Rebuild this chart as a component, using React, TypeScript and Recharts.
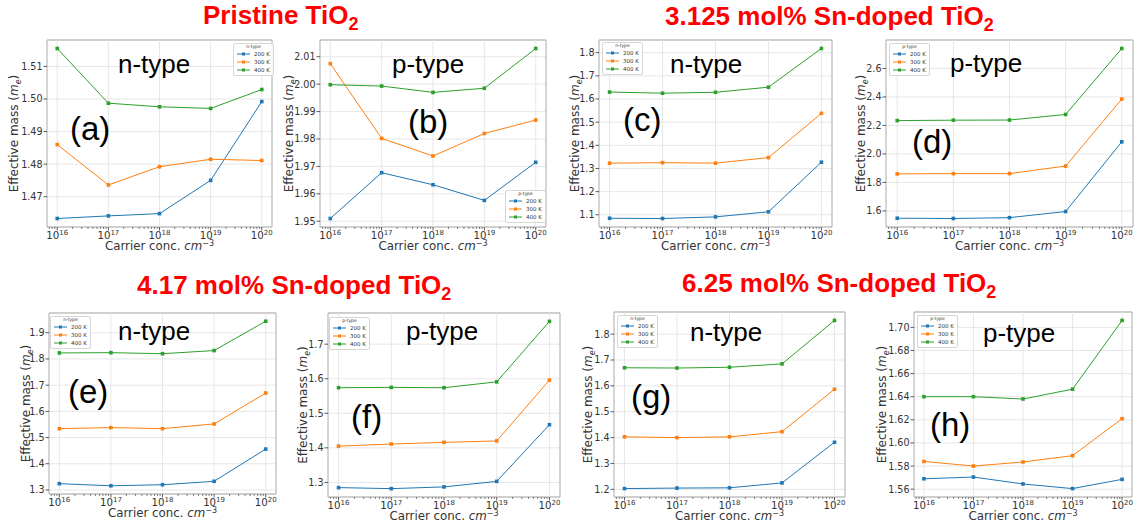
import React from 'react';
import {
  LineChart,
  Line,
  XAxis,
  YAxis,
  CartesianGrid,
  ReferenceLine,
  ReferenceArea,
  Legend
} from 'recharts';

// carrier concentration exponents (10^n cm^-3)
const exponents = [16, 17, 18, 19, 20];
const tempLabels = ['200 K', '300 K', '400 K'];
const colors = ['#1f77b4', '#ff7f0e', '#2ca02c'];

// (a) pristine n-type
const a200 = [1.4633, 1.4641, 1.4648, 1.4750, 1.4992];
const a300 = [1.4860, 1.4736, 1.4792, 1.4815, 1.4811];
const a400 = [1.5155, 1.4987, 1.4976, 1.4971, 1.5029];
// (b) pristine p-type
const b200 = [1.9510, 1.9677, 1.9633, 1.9576, 1.9715];
const b300 = [2.0075, 1.9802, 1.9738, 1.9820, 1.9869];
const b400 = [1.9998, 1.9993, 1.9970, 1.9985, 2.0130];
// (c) 3.125% n-type
const c200 = [1.085, 1.084, 1.091, 1.113, 1.327];
const c300 = [1.323, 1.325, 1.323, 1.347, 1.538];
const c400 = [1.630, 1.625, 1.629, 1.651, 1.818];
// (d) 3.125% p-type
const d200 = [1.549, 1.547, 1.553, 1.596, 2.085];
const d300 = [1.860, 1.862, 1.862, 1.915, 2.385];
const d400 = [2.234, 2.237, 2.238, 2.277, 2.740];
// (e) 4.17% n-type
const e200 = [1.324, 1.316, 1.320, 1.333, 1.456];
const e300 = [1.534, 1.538, 1.534, 1.552, 1.670];
const e400 = [1.823, 1.824, 1.820, 1.832, 1.944];
// (f) 4.17% p-type
const f200 = [1.285, 1.282, 1.287, 1.303, 1.467];
const f300 = [1.405, 1.411, 1.416, 1.420, 1.596];
const f400 = [1.574, 1.575, 1.574, 1.591, 1.766];
// (g) 6.25% n-type
const g200 = [1.203, 1.205, 1.206, 1.225, 1.382];
const g300 = [1.403, 1.400, 1.403, 1.423, 1.587];
const g400 = [1.670, 1.669, 1.672, 1.685, 1.853];
// (h) 6.25% p-type
const h200 = [1.569, 1.5705, 1.5645, 1.5605, 1.5685];
const h300 = [1.584, 1.580, 1.5835, 1.589, 1.621];
const h400 = [1.640, 1.640, 1.638, 1.6465, 1.706];

// y tick labels per panel
const aTicks = [1.47, 1.48, 1.49, 1.50, 1.51];
const bTicks = [1.95, 1.96, 1.97, 1.98, 1.99, 2.00, 2.01];
const cTicks = [1.1, 1.2, 1.3, 1.4, 1.5, 1.6, 1.7, 1.8];
const dTicks = [1.6, 1.8, 2.0, 2.2, 2.4, 2.6];
const eTicks = [1.3, 1.4, 1.5, 1.6, 1.7, 1.8, 1.9];
const fTicks = [1.3, 1.4, 1.5, 1.6, 1.7];
const gTicks = [1.2, 1.3, 1.4, 1.5, 1.6, 1.7, 1.8];
const hTicks = [1.56, 1.58, 1.60, 1.62, 1.64, 1.66, 1.68, 1.70];

const X_DOMAIN = [15.8, 20.2];
// log-scale minor ticks (2..9 x 10^n)
const minorTicks = [15, 16, 17, 18, 19]
  .flatMap(d => [2, 3, 4, 5, 6, 7, 8, 9].map(k => d + Math.log10(k)))
  .filter(v => v > X_DOMAIN[0] && v < X_DOMAIN[1]);
const xTicks = [...exponents, ...minorTicks].sort((p, q) => p - q);

const TICK_FONT = '"DejaVu Sans", sans-serif';
const TEXT_FONT = '"Liberation Sans", Arial, sans-serif';

type Panel = {
  kind: string;
  tag: string;
  series: number[][];
  yTicks: number[];
  digits: number;
  box: number[]; // plot area x0,y0,x1,y1
  legend: number[];
  kindPos: number[];
  tagPos: number[];
  yLabelX: number;
};

const panels: Panel[] = [
  { kind: 'n-type', tag: '(a)', series: [a200, a300, a400], yTicks: aTicks, digits: 2, box: [47, 40, 272, 227], legend: [233, 43], kindPos: [118, 73], tagPos: [70, 140], yLabelX: 14 },
  { kind: 'p-type', tag: '(b)', series: [b200, b300, b400], yTicks: bTicks, digits: 2, box: [320, 40, 546, 227], legend: [505, 190], kindPos: [392, 73], tagPos: [408, 133], yLabelX: 289 },
  { kind: 'n-type', tag: '(c)', series: [c200, c300, c400], yTicks: cTicks, digits: 1, box: [599, 40, 832, 227], legend: [602, 42], kindPos: [670, 73], tagPos: [623, 131], yLabelX: 575 },
  { kind: 'p-type', tag: '(d)', series: [d200, d300, d400], yTicks: dTicks, digits: 1, box: [886, 40, 1133, 227], legend: [889, 43], kindPos: [950, 72], tagPos: [912, 153], yLabelX: 861 },
  { kind: 'n-type', tag: '(e)', series: [e200, e300, e400], yTicks: eTicks, digits: 1, box: [49, 313, 276, 494], legend: [50, 316], kindPos: [118, 340], tagPos: [68, 403], yLabelX: 26 },
  { kind: 'p-type', tag: '(f)', series: [f200, f300, f400], yTicks: fTicks, digits: 1, box: [328, 313, 560, 497], legend: [329, 317], kindPos: [406, 340], tagPos: [351, 428], yLabelX: 303 },
  { kind: 'n-type', tag: '(g)', series: [g200, g300, g400], yTicks: gTicks, digits: 1, box: [614, 312, 845, 497], legend: [617, 315], kindPos: [690, 341], tagPos: [631, 408], yLabelX: 588 },
  { kind: 'p-type', tag: '(h)', series: [h200, h300, h400], yTicks: hTicks, digits: 2, box: [914, 312, 1132, 497], legend: [917, 315], kindPos: [983, 342], tagPos: [930, 436], yLabelX: 882 },
];

const titles = [
  { text: 'Pristine TiO', x: 203, y: 24 },
  { text: '3.125 mol% Sn-doped TiO', x: 665, y: 25 },
  { text: '4.17 mol% Sn-doped TiO', x: 137, y: 294 },
  { text: '6.25 mol% Sn-doped TiO', x: 682, y: 292 },
];

// matplotlib-like autoscale with 5% margins
const padDomain = (vals: number[]) => {
  const lo = Math.min(...vals);
  const hi = Math.max(...vals);
  const r = hi - lo;
  return [lo - 0.05 * r, hi + 0.05 * r];
};

const YTick = ({ x, y, payload, digits }: any) => (
  <g>
    <line x1={x - 3.5} x2={x} y1={y} y2={y} stroke="#333" strokeWidth={0.8} />
    <text x={x - 4.5} y={y} dy="0.36em" textAnchor="end" fontSize={9.6} fontFamily={TICK_FONT} fill="#333">
      {Number(payload.value).toFixed(digits)}
    </text>
  </g>
);

const XTick = ({ x, y, payload }: any) => {
  const v = payload.value;
  const major = Math.abs(v - Math.round(v)) < 1e-6;
  return (
    <g>
      <line x1={x} x2={x} y1={y} y2={y + (major ? 3.5 : 2)} stroke="#333" strokeWidth={major ? 0.8 : 0.6} />
      {major && (
        <text x={x} y={y + 11.5} textAnchor="middle" fontSize={10.2} fontFamily={TICK_FONT} fill="#333">
          10<tspan dy={-4} fontSize={7}>{Math.round(v)}</tspan>
        </text>
      )}
    </g>
  );
};

const XLabel = ({ viewBox }: any) => {
  if (!viewBox) return null;
  const cx = viewBox.x + viewBox.width / 2;
  return (
    <text x={cx} y={viewBox.y + 23} textAnchor="middle" fontSize={11.8} fontFamily={TICK_FONT} fill="#333">
      Carrier conc. <tspan fontStyle="italic">cm</tspan>
      <tspan dy={-4.5} fontSize={8}>−3</tspan>
    </text>
  );
};

const YLabel = ({ viewBox, dx }: any) => {
  if (!viewBox) return null;
  const cx = viewBox.x + dx;
  const cy = viewBox.y + viewBox.height / 2;
  return (
    <text x={cx} y={cy} transform={`rotate(-90 ${cx} ${cy})`} dy="0.36em" textAnchor="middle" fontSize={12} fontFamily={TICK_FONT} fill="#333">
      Effective mass (<tspan fontStyle="italic">m</tspan>
      <tspan dy={2.5} fontSize={8} fontStyle="italic">e</tspan>
      <tspan dy={-2.5}>)</tspan>
    </text>
  );
};

const LegendBox = ({ title }: { title: string }) => (
  <div
    style={{
      background: 'rgba(255,255,255,0.85)',
      border: '1px solid #d6d6d6',
      borderRadius: 2,
      padding: '0px 3px 1px 3px',
      fontFamily: TICK_FONT,
      fontSize: 5.5,
      color: '#333',
      lineHeight: '8px',
    }}
  >
    <div style={{ textAlign: 'center', fontSize: 4.5, lineHeight: '6px' }}>{title}</div>
    {tempLabels.map((t, i) => (
      <div key={t} style={{ display: 'flex', alignItems: 'center', height: 8 }}>
        <svg width={13} height={8}>
          <line x1={0} x2={13} y1={4} y2={4} stroke={colors[i]} strokeWidth={1} />
          <rect x={5} y={2.5} width={3} height={3} fill={colors[i]} />
        </svg>
        <span style={{ marginLeft: 4 }}>{t}</span>
      </div>
    ))}
  </div>
);

const squareDot = (color: string) => (p: any) => (
  <rect key={`dot-${p.index}`} x={p.cx - 1.8} y={p.cy - 1.8} width={3.6} height={3.6} fill={color} />
);

const PanelChart = ({ panel }: { panel: Panel }) => {
  const [x0, y0, x1, y1] = panel.box;
  const left = x0 - 45;
  const top = y0 - 5;
  const width = x1 - x0 + 50;
  const height = y1 - y0 + 35;
  const yDomain = padDomain(panel.series.flat());
  const data = exponents.map((e, i) => ({
    exp: e,
    s0: panel.series[0][i],
    s1: panel.series[1][i],
    s2: panel.series[2][i],
  }));
  return (
    <div style={{ position: 'absolute', left, top, width, height }}>
      <LineChart width={width} height={height} data={data} margin={{ top: 5, right: 5, bottom: 0, left: 0 }}>
        <CartesianGrid vertical={false} stroke="#e4e4e4" strokeWidth={0.9} />
        {exponents.map(e => (
          <ReferenceLine key={`g${e}`} x={e} stroke="#e4e4e4" strokeWidth={0.9} />
        ))}
        <XAxis
          type="number"
          dataKey="exp"
          domain={X_DOMAIN}
          allowDataOverflow
          ticks={xTicks}
          interval={0}
          height={30}
          tickSize={0}
          tickMargin={0}
          tickLine={false}
          axisLine={false}
          tick={<XTick />}
          label={<XLabel />}
        />
        <YAxis
          type="number"
          domain={yDomain}
          allowDataOverflow
          ticks={panel.yTicks}
          interval={0}
          width={45}
          tickSize={0}
          tickMargin={0}
          tickLine={false}
          axisLine={false}
          tick={<YTick digits={panel.digits} />}
          label={<YLabel dx={panel.yLabelX - left} />}
        />
        <Legend
          layout="horizontal"
          verticalAlign="middle"
          align="center"
          wrapperStyle={{ left: panel.legend[0] - left, top: panel.legend[1] - top, width: 'auto' }}
          content={() => <LegendBox title={panel.kind} />}
        />
        {panel.series.map((_, i) => (
          <Line
            key={tempLabels[i]}
            name={tempLabels[i]}
            type="linear"
            dataKey={`s${i}`}
            stroke={colors[i]}
            strokeWidth={1}
            dot={squareDot(colors[i])}
            activeDot={false}
            isAnimationActive={false}
          />
        ))}
        <ReferenceArea x1={X_DOMAIN[0]} x2={X_DOMAIN[1]} y1={yDomain[0]} y2={yDomain[1]} fill="none" stroke="#ababab" strokeWidth={1} />
      </LineChart>
    </div>
  );
};

export default function App() {
  return (
    <div style={{ position: 'absolute', left: 0, top: 0, width: 1143, height: 529, background: '#fff', overflow: 'hidden' }}>
      {panels.map(p => (
        <PanelChart key={p.tag} panel={p} />
      ))}
      <svg width={1143} height={529} style={{ position: 'absolute', left: 0, top: 0, pointerEvents: 'none' }}>
        {titles.map(t => (
          <text key={t.text} x={t.x} y={t.y} fontFamily={TEXT_FONT} fontWeight="bold" fontSize={26} fill="#ff0000">
            {t.text}
            <tspan dy={6} fontSize={18}>2</tspan>
          </text>
        ))}
        {panels.map(p => (
          <g key={`lab-${p.tag}`}>
            <text x={p.kindPos[0]} y={p.kindPos[1]} fontFamily={TEXT_FONT} fontSize={26} fill="#000">{p.kind}</text>
            <text x={p.tagPos[0]} y={p.tagPos[1]} fontFamily={TEXT_FONT} fontSize={33} fill="#000">{p.tag}</text>
          </g>
        ))}
      </svg>
    </div>
  );
}
